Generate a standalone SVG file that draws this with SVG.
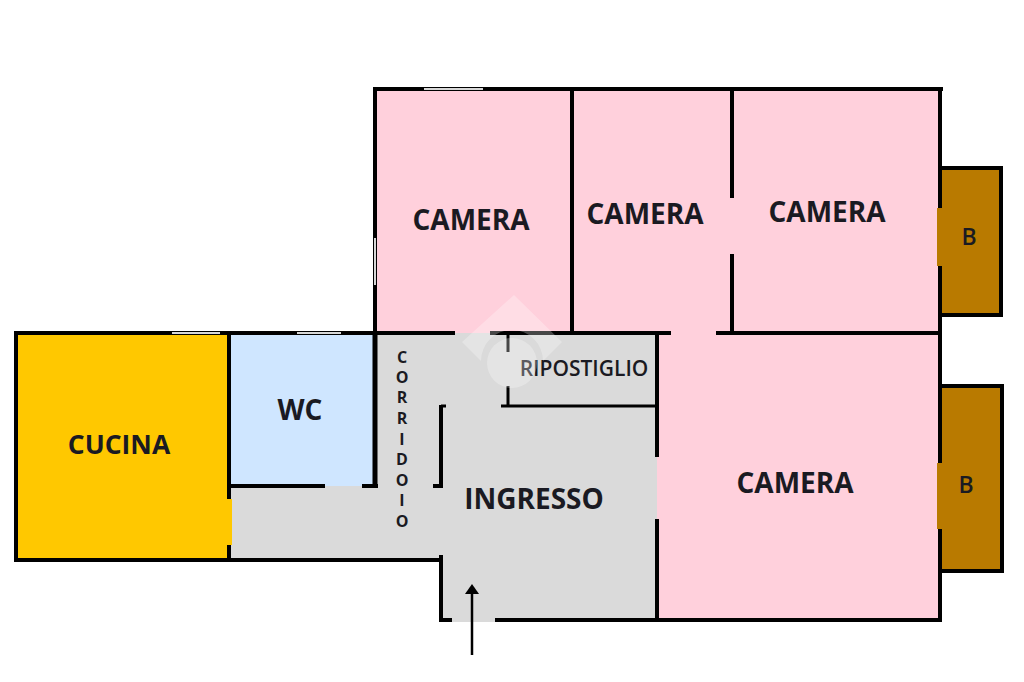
<svg xmlns="http://www.w3.org/2000/svg" width="1024" height="682" viewBox="0 0 1024 682">
<style>
.w{stroke:#000;fill:none;stroke-linecap:butt}
.w4{stroke-width:4}
.w5{stroke-width:5}
.w3{stroke-width:3}
.win{stroke:#d8d8d8;stroke-width:2;fill:none}
text{font-family:"Open Sans","Noto Sans",sans-serif;font-weight:700;fill:#1a1a22;text-anchor:middle}
.l{font-size:28px}
</style>
<rect width="1024" height="682" fill="#fff"/>
<g id="fills">
<rect x="375" y="89" width="566" height="244" fill="#ffd0dc"/>
<rect x="657" y="333" width="284" height="287" fill="#ffd0dc"/>
<rect x="941" y="168" width="60" height="147" fill="#b97a00"/>
<rect x="941" y="386" width="61" height="185" fill="#b97a00"/>
<rect x="937" y="208" width="6" height="58" fill="#b97a00"/>
<rect x="937" y="463" width="6" height="66" fill="#b97a00"/>
<rect x="15" y="333" width="214" height="227" fill="#ffc800"/>
<rect x="229" y="333" width="146" height="153" fill="#cfe6ff"/>
<path d="M375 333H657V622H441V560H229V486H375Z" fill="#dadada"/>
<rect x="229" y="499" width="3" height="46" fill="#ffc800"/>
</g>
<g id="walls" class="w">
<path class="w4" d="M373 89H943M375 87V333M572 89V333M732 89V198M732 254V333M15 333H455M490 333H671M716 333H941M940 87V208M940 266V463M940 529V622"/>
<path class="w5" d="M375 333V488"/>
<path class="w4" d="M16 331V562M229 333V499M229 545V560M14 560H443M441 555V622M439 620H452M495 620H941M657 333V457M657 519V620"/>
<path class="w4" d="M229 486H325M362 486H378M441 405V488M433 486H443"/>
<path class="w3" d="M508 333V352M508 386V406M501 406H657M441 406H446"/>
<path class="w4" d="M942 168H1001V315H942M942 386H1002V571H942"/>
<path class="win" d="M424 89H483M375 238V285M172 333H220M297 333H341"/>
</g>
<g id="cucina"><text x="119" y="454" font-size="26.5">CUCINA</text></g>
<g id="wc"><text class="l" x="300" y="420">WC</text></g>
<g id="camera1"><text class="l" x="471" y="230">CAMERA</text></g>
<g id="camera2"><text class="l" x="645" y="224">CAMERA</text></g>
<g id="camera3"><text class="l" x="827" y="222">CAMERA</text></g>
<g id="camera4"><text class="l" x="795" y="493">CAMERA</text></g>
<g id="ingresso"><text class="l" x="534" y="509">INGRESSO</text></g>
<g id="ripostiglio"><text x="584" y="376" font-size="21" style="font-weight:600">RIPOSTIGLIO</text></g>
<g id="corridoio" font-size="16" style="font-weight:600">
<text x="402" y="363">C</text><text x="402" y="383">O</text><text x="402" y="403">R</text><text x="402" y="424">R</text><text x="402" y="445">I</text><text x="402" y="465">D</text><text x="402" y="486">O</text><text x="402" y="506">I</text><text x="402" y="527">O</text>
</g>
<g id="balcone1"><text x="969" y="245" font-size="23" style="font-weight:600">B</text></g>
<g id="balcone2"><text x="966" y="493" font-size="23" style="font-weight:600">B</text></g>
<g id="connectors">
<path d="M472 655V590" stroke="#000" stroke-width="2.5" fill="none"/>
<path d="M472 584L479 594H465Z" fill="#000"/>
</g>
<g id="watermark" fill="#fff" opacity=".28">
<path d="M514 295L562 342L543 361A31 31 0 0 0 481 361L462 342Z"/>
<circle cx="512" cy="363" r="25"/>
</g>
</svg>
